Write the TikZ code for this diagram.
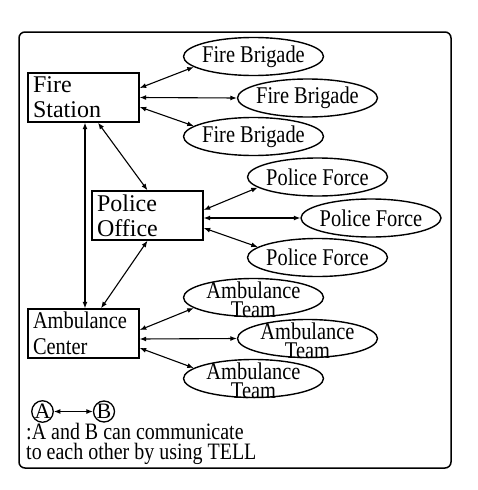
\documentclass[tikz,border=0pt]{standalone}
\usepackage{fontspec}
\setmainfont{Liberation Serif}
\newfontfamily\narfont{Liberation Serif}[FakeStretch=0.85]
\usetikzlibrary{shapes.geometric,arrows.meta}
\begin{document}
\begin{tikzpicture}[x=1pt,y=-1pt,
  box/.style={draw, line width=1.4pt, rectangle, minimum width=111pt, minimum height=49pt,
    text width=101pt, inner xsep=5pt, inner ysep=0pt, align=left,
    font=\fontsize{24}{25}\selectfont},
  ell/.style={draw, ellipse, line width=1.4pt, minimum width=140pt, minimum height=38pt,
    inner sep=0pt, font=\narfont\fontsize{24}{19}\selectfont},
  tmtxt/.style={align=center, inner sep=0pt, font=\narfont\fontsize{24}{19}\selectfont},
  circ/.style={draw, circle, line width=1.3pt, minimum size=21pt, inner sep=0pt,
    font=\fontsize{22}{22}\selectfont},
  legtxt/.style={anchor=base west, inner sep=0pt, font=\narfont\fontsize{23.5}{20}\selectfont},
  link/.style={line width=1.1pt, >={Latex[length=6.5pt,width=5pt]}, <->},
]
\useasboundingbox (0,0) rectangle (478,490);
\draw[line width=1.5pt, rounded corners=6pt] (19,32) rectangle (451,468);

% command nodes
\node[box] (fs) at (83.5,97.5) {Fire\\Station};
\node[box] (po) at (147.5,215.5) {Police\\Office};
\node[box, font=\narfont\fontsize{24}{26}\selectfont] (ac) at (83.5,333.5) {Ambulance\\Center};

% agents
\node[ell] (fb1) at (253.5,56.5) {\makebox[0pt]{Fire Brigade}};
\node[ell] (fb2) at (307.5,98) {\makebox[0pt]{Fire Brigade}};
\node[ell] (fb3) at (253.5,136.5) {\makebox[0pt]{Fire Brigade}};
\node[ell] (pf1) at (317.5,177) {\makebox[0pt]{Police Force}};
\node[ell] (pf2) at (371,218) {\makebox[0pt]{Police Force}};
\node[ell] (pf3) at (317.5,257.5) {\makebox[0pt]{Police Force}};
\node[ell] (at1) at (253.5,297.5) {};
\node[ell] (at2) at (307.5,338.5) {};
\node[ell] (at3) at (253.5,378.5) {};
\node[tmtxt] (at1t) at ([yshift=-2pt]at1.center) {Ambulance\\Team};
\node[tmtxt] (at2t) at ([yshift=-2pt]at2.center) {Ambulance\\Team};
\node[tmtxt] (at3t) at ([yshift=-2pt]at3.center) {Ambulance\\Team};

% connectors
\draw[link] ([yshift=9.5pt]fs.east) -- (fb1.190);
\draw[link] (fs.east) -- (fb2.west);
\draw[link] ([yshift=-9.5pt]fs.east) -- (fb3.170);
\draw[link] ([xshift=14.5pt]fs.south) -- (po.north);
\draw[link] ([xshift=1.5pt]fs.south) -- ([xshift=1.5pt]ac.north);
\draw[link] (po.south) -- ([xshift=17.5pt]ac.north);
\draw[link] ([yshift=5.5pt]po.east) -- (pf1.190);
\draw[link] ([yshift=-2.5pt]po.east) -- (pf2.west);
\draw[link] ([yshift=-12.5pt]po.east) -- (pf3.170);
\draw[link] ([yshift=3.5pt]ac.east) -- (at1.190);
\draw[link] ([yshift=-5.5pt]ac.east) -- (at2.west);
\draw[link] ([yshift=-14.5pt]ac.east) -- (at3.170);

% legend
\node[circ] (la) at (42.5,411.5) {A};
\node[circ] (lb) at (104,411.5) {B};
\draw[link] (la) -- (lb);
\node[legtxt] (l1) at (26,439) {:A and B can communicate};
\node[legtxt] (l2) at (26,459) {to each other by using TELL};
\end{tikzpicture}
\end{document}
